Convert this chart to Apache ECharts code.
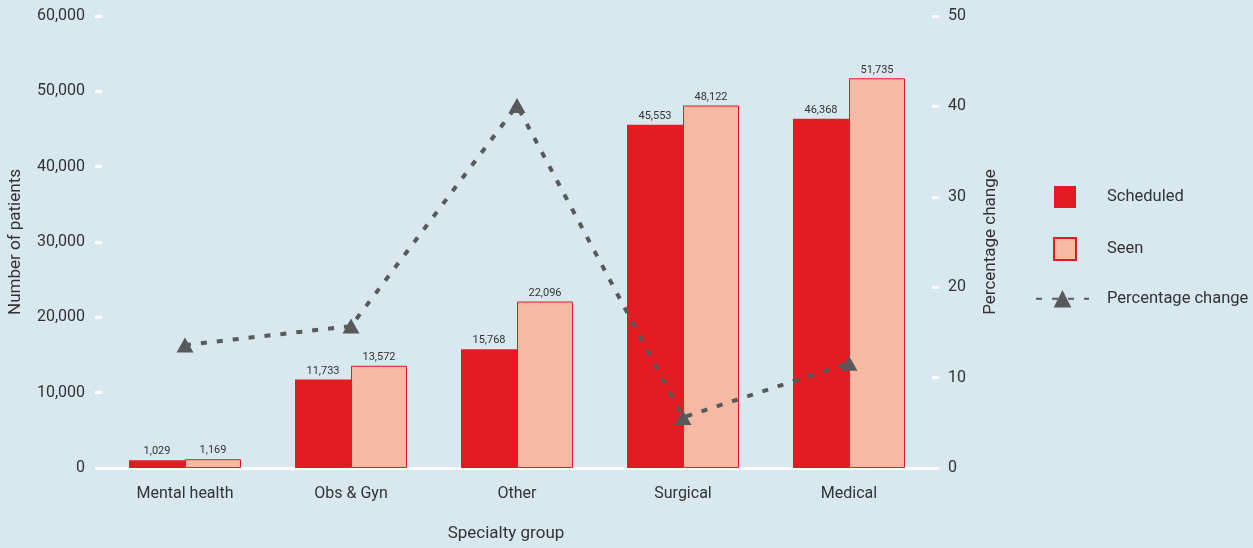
<!DOCTYPE html>
<html>
<head>
<meta charset="utf-8">
<script src="https://cdn.jsdelivr.net/npm/echarts@6/dist/echarts.min.js"></script>
<style>
html, body { margin: 0; padding: 0; background: #d8e8ef; }
#chart { width: 1253px; height: 548px; }
</style>
</head>
<body>
<div id="chart"></div>
<script>
// data
var categories = ['Mental health', 'Obs & Gyn', 'Other', 'Surgical', 'Medical'];
var scheduled = [1029, 11733, 15768, 45553, 46368];
var seen = [1169, 13572, 22096, 48122, 51735];
var pctChange = [13.6, 15.7, 40.1, 5.6, 11.6];

var FONT = "Roboto, 'Liberation Sans', sans-serif";
var TXT = '#333';

function commas(v) {
  return Number(v).toLocaleString('en-US');
}

var chart = echarts.init(document.getElementById('chart'));
chart.setOption({
  backgroundColor: '#d8e8ef',
  textStyle: { fontFamily: FONT, color: TXT },
  grid: { left: 102, right: 321, top: 16, bottom: 80, outerBoundsMode: 'none', containLabel: false },
  legend: [
    {
      data: ['Scheduled', 'Seen'],
      orient: 'vertical',
      left: 1053, top: 186,
      padding: 0,
      icon: 'rect',
      itemWidth: 22, itemHeight: 22, itemGap: 29,
      textStyle: { fontFamily: FONT, fontSize: 16.5, color: TXT, padding: [0, 0, 0, 26] }
    },
    {
      data: ['Percentage change'],
      left: 1035, top: 290,
      padding: 0,
      itemWidth: 53, itemHeight: 22,
      textStyle: { fontFamily: FONT, fontSize: 16.5, color: TXT, padding: [0, 0, 0, 13] }
    }
  ],
  xAxis: {
    type: 'category',
    data: categories,
    name: 'Specialty group',
    nameLocation: 'middle',
    nameGap: 57,
    nameTextStyle: { fontSize: 17, color: TXT, padding: [0, 22, 0, 0] },
    axisLine: { show: true, lineStyle: { color: '#fff', width: 3 } },
    axisTick: { show: false },
    axisLabel: { fontSize: 16, color: TXT, margin: 18 }
  },
  yAxis: [
    {
      type: 'value',
      min: 0, max: 60000, interval: 10000,
      name: 'Number of patients',
      nameLocation: 'middle',
      nameRotate: 90,
      nameGap: 78,
      nameTextStyle: { fontSize: 17, color: TXT },
      axisLine: { show: false },
      axisTick: { show: true, length: 7, lineStyle: { color: '#fff', width: 3 } },
      splitLine: { show: false },
      axisLabel: { fontSize: 16, color: TXT, margin: 17, formatter: commas }
    },
    {
      type: 'value',
      min: 0, max: 50, interval: 10,
      name: 'Percentage change',
      nameLocation: 'middle',
      nameRotate: 90,
      nameGap: 50,
      nameTextStyle: { fontSize: 17, color: TXT },
      axisLine: { show: false },
      axisTick: { show: true, length: 7, lineStyle: { color: '#fff', width: 3 } },
      splitLine: { show: false },
      axisLabel: { fontSize: 16, color: TXT, margin: 16 }
    }
  ],
  series: [
    {
      name: 'Scheduled',
      type: 'bar',
      data: scheduled,
      barWidth: 56,
      barGap: '0%',
      itemStyle: { color: '#e31b23' },
      label: { show: true, position: 'top', distance: 3, fontSize: 11, color: TXT, formatter: function (p) { return commas(p.value); } }
    },
    {
      name: 'Seen',
      type: 'bar',
      data: seen,
      barWidth: 56,
      itemStyle: { color: '#f6baa4', borderColor: '#e31b23', borderWidth: 1 },
      label: { show: true, position: 'top', distance: 3, fontSize: 11, color: TXT, formatter: function (p) { return commas(p.value); } }
    },
    {
      name: 'Percentage change',
      type: 'line',
      yAxisIndex: 1,
      data: pctChange,
      z: 5,
      symbol: 'triangle',
      symbolSize: [17, 15],
      itemStyle: { color: '#58595b' },
      lineStyle: { color: '#58595b', width: 4, type: [6, 10], cap: 'butt' }
    }
  ]
});
</script>
</body>
</html>
